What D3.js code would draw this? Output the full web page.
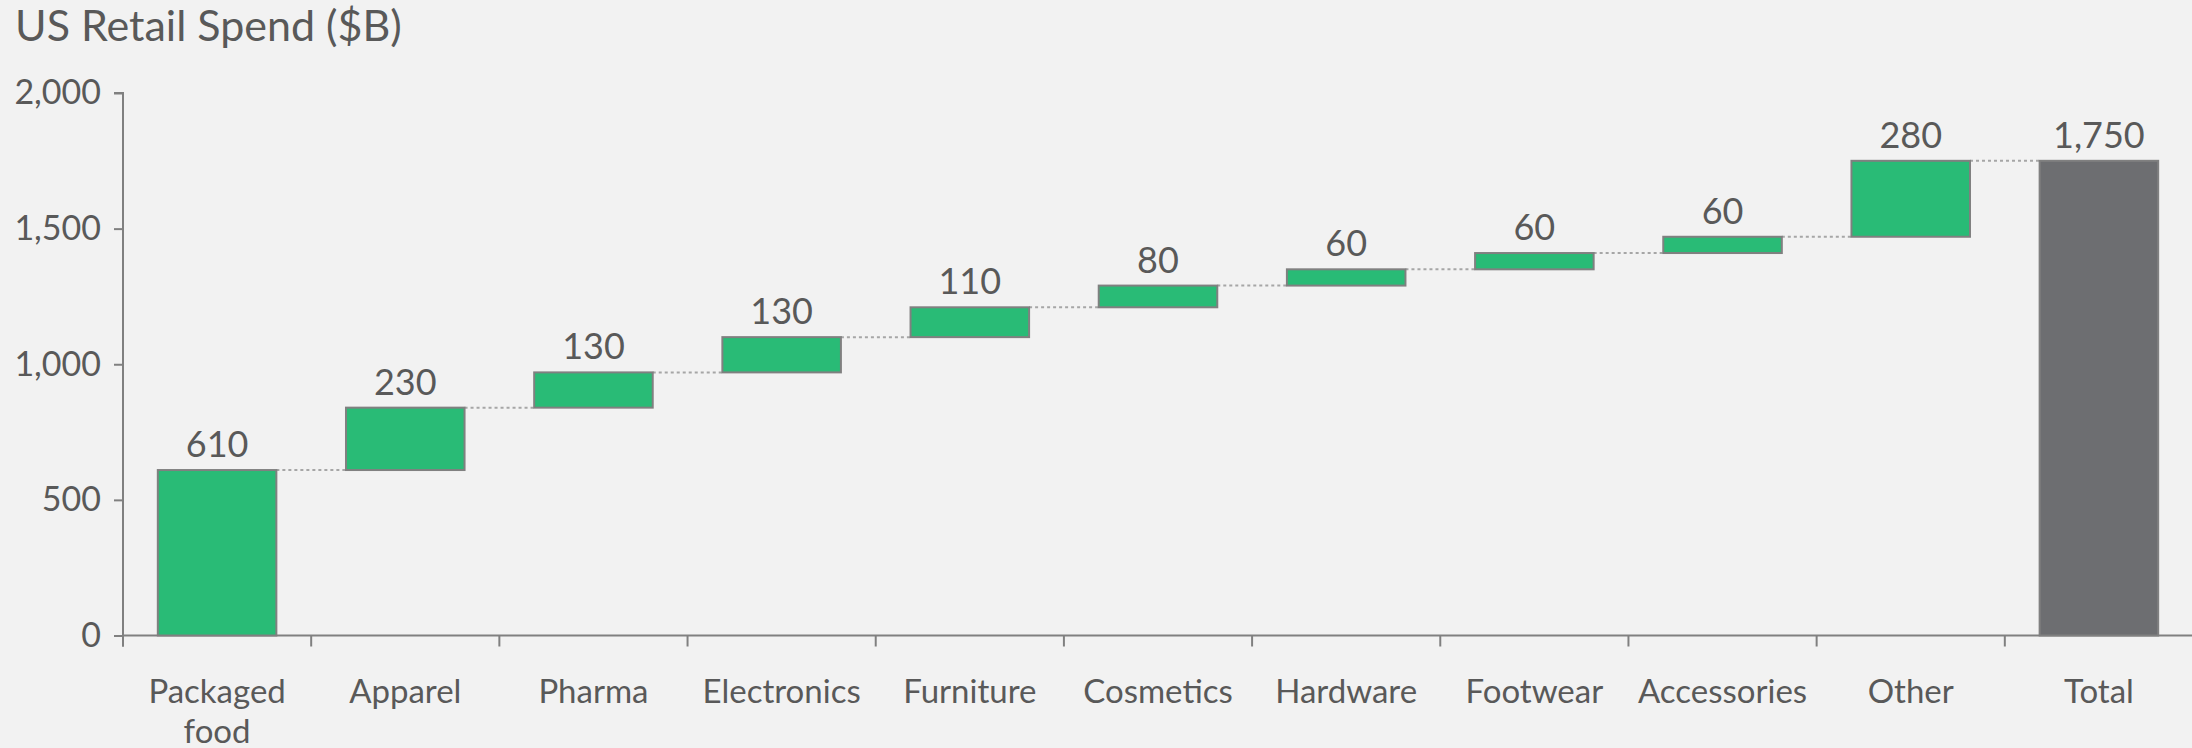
<!DOCTYPE html>
<html>
<head>
<meta charset="utf-8">
<script src="https://cdn.jsdelivr.net/npm/d3@7"></script>
<style>
  body { margin: 0; background: #f2f2f2; }
  svg { display: block; font-family: Lato, "Noto Sans", sans-serif; }
</style>
</head>
<body>
<svg id="chart" width="2192" height="748"></svg>
<script>
  // data
  var categories = ["Packaged food", "Apparel", "Pharma", "Electronics", "Furniture",
                    "Cosmetics", "Hardware", "Footwear", "Accessories", "Other", "Total"];
  var deltas = [610, 230, 130, 130, 110, 80, 60, 60, 60, 280];
  var total = 1750;
  var yTicks = [0, 500, 1000, 1500, 2000];

  var W = 2192, H = 748;
  var mLeft = 123, mTop = 93, mBottom = 635.5, mRight = 2193;

  var svg = d3.select("#chart");
  svg.append("rect").attr("width", W).attr("height", H).attr("fill", "#f2f2f2");

  // build steps
  var rows = [];
  var run = 0;
  deltas.forEach(function (d, i) {
    rows.push({ name: categories[i], start: run, end: run + d, value: d, total: false });
    run += d;
  });
  rows.push({ name: categories[10], start: 0, end: total, value: total, total: true });

  var x = d3.scaleBand().domain(categories).range([mLeft, mRight])
            .paddingInner(0.37).paddingOuter(0.185);
  var y = d3.scaleLinear().domain([0, 2000]).range([mBottom, mTop]);

  var fmt = d3.format(",");
  var textCol = "#595959";
  var axisCol = "#808080";

  // title
  svg.append("text").attr("x", 15).attr("y", 41).attr("font-size", 43)
     .attr("fill", textCol).text("US Retail Spend ($B)");

  // y axis
  var yAxis = svg.append("g").attr("transform", "translate(" + mLeft + ",0)")
     .call(d3.axisLeft(y).tickValues(yTicks).tickFormat(fmt).tickSize(9).tickPadding(13));
  yAxis.select(".domain").attr("stroke", axisCol).attr("stroke-width", 2)
     .attr("d", "M-9," + y(2000) + "H0V" + (mBottom + 11));
  yAxis.selectAll(".tick line").attr("stroke", axisCol).attr("stroke-width", 2);
  yAxis.selectAll(".tick text").attr("font-size", 34).attr("fill", textCol)
     .attr("font-family", "Lato, sans-serif");

  // x axis
  var xAxis = svg.append("g").attr("transform", "translate(0," + mBottom + ")")
     .call(d3.axisBottom(x).tickSize(0).tickPadding(0));
  xAxis.select(".domain").attr("stroke", axisCol).attr("stroke-width", 2)
     .attr("d", "M" + mLeft + ",0H" + W);
  xAxis.selectAll(".tick text").remove();
  // boundary ticks
  var bounds = d3.range(categories.length + 1).map(function (i) { return mLeft + i * x.step(); });
  xAxis.selectAll(".bound").data(bounds).join("line").attr("class", "bound")
     .attr("x1", function (d) { return d; }).attr("x2", function (d) { return d; })
     .attr("y1", 0).attr("y2", 11).attr("stroke", axisCol).attr("stroke-width", 2);

  // x labels (wrap the long two-word label)
  var labels = svg.append("g");
  categories.forEach(function (c) {
    var cx = x(c) + x.bandwidth() / 2;
    var t = labels.append("text").attr("text-anchor", "middle").attr("font-size", 33)
       .attr("fill", textCol).attr("x", cx).attr("y", mBottom + 67);
    var parts = c === "Packaged food" ? ["Packaged", "food"] : [c];
    parts.forEach(function (p, i) {
      t.append("tspan").attr("x", cx).attr("dy", i ? 40 : 0).text(p);
    });
  });

  // connectors
  svg.append("g").selectAll("line").data(rows.slice(0, -1)).join("line")
     .attr("x1", function (d) { return x(d.name) + x.bandwidth(); })
     .attr("x2", function (d, i) { return x(rows[i + 1].name); })
     .attr("y1", function (d) { return y(d.end); })
     .attr("y2", function (d) { return y(d.end); })
     .attr("stroke", "#a6a6a6").attr("stroke-width", 2).attr("stroke-dasharray", "3,3");

  // bars
  svg.append("g").selectAll("rect").data(rows).join("rect")
     .attr("x", function (d) { return x(d.name); })
     .attr("width", x.bandwidth())
     .attr("y", function (d) { return y(d.end); })
     .attr("height", function (d) { return y(d.start) - y(d.end); })
     .attr("fill", function (d) { return d.total ? "#6d6e71" : "#29bb76"; })
     .attr("stroke", "#808080").attr("stroke-width", 2);

  // value labels
  svg.append("g").selectAll("text").data(rows).join("text")
     .attr("text-anchor", "middle").attr("font-size", 36).attr("fill", textCol)
     .attr("x", function (d) { return x(d.name) + x.bandwidth() / 2; })
     .attr("y", function (d) { return y(d.end) - 13; })
     .text(function (d) { return fmt(d.value); });
</script>
</body>
</html>
